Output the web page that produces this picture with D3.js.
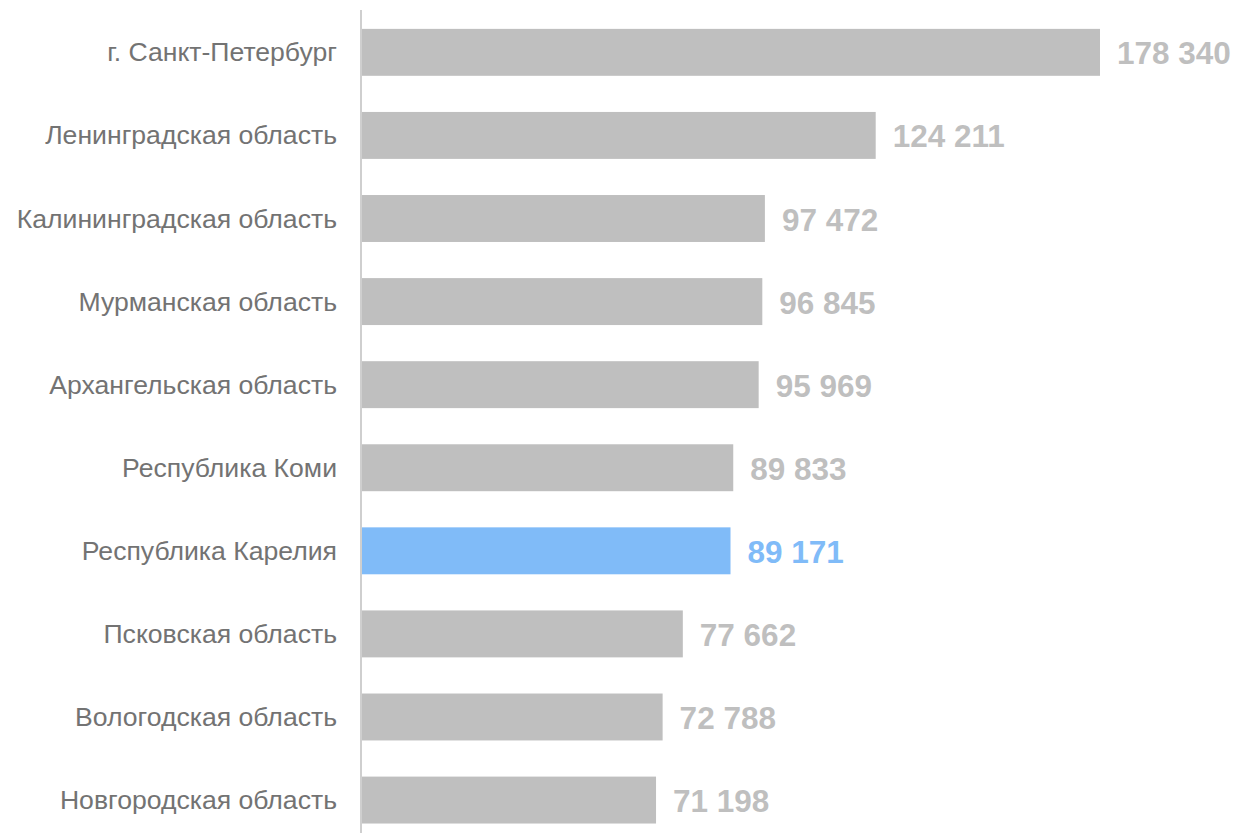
<!DOCTYPE html>
<html><head><meta charset="utf-8">
<script src="https://cdn.jsdelivr.net/npm/d3@7"></script>
<style>body{margin:0;background:#fff}svg{display:block}</style>
</head><body>
<svg id="c" width="1236" height="833"></svg>
<script>
const categories = ["г. Санкт-Петербург","Ленинградская область","Калининградская область","Мурманская область","Архангельская область","Республика Коми","Республика Карелия","Псковская область","Вологодская область","Новгородская область"];
const values = [178340,124211,97472,96845,95969,89833,89171,77662,72788,71198];
const highlight = "Республика Карелия";

const svg = d3.select("#c");
const x0 = 361;
const x = d3.scaleLinear().domain([0,178340]).range([x0, 1100]);
const y = d3.scaleBand().domain(categories).range([10.8, 841.6]).paddingInner(0.435).paddingOuter(0.2175);
const fmt = v => d3.format(",")(v).replace(/,/g," ");

svg.selectAll("rect.bar").data(categories).join("rect")
  .attr("x", x0+1).attr("y", d=>y(d))
  .attr("width", (d,i)=>x(values[i])-x0-1).attr("height", y.bandwidth())
  .attr("fill", d=> d===highlight ? "#80bbf8" : "#bfbfbf");

svg.append("line").attr("x1",x0).attr("x2",x0).attr("y1",10).attr("y2",833)
  .attr("stroke","#bfbfbf").attr("stroke-width",1.5);

svg.selectAll("text.cat").data(categories).join("text")
  .attr("x", 337).attr("y", d=>y(d)+y.bandwidth()/2)
  .attr("text-anchor","end").attr("dominant-baseline","central")
  .style("font-family","'Liberation Sans', Arial, sans-serif").attr("font-size",26.6)
  .attr("fill","#737373").text(d=>d);

svg.selectAll("text.val").data(categories).join("text")
  .attr("x", (d,i)=>x(values[i])+17).attr("y", d=>y(d)+y.bandwidth()/2+1)
  .attr("dominant-baseline","central")
  .style("font-family","'Liberation Sans', Arial, sans-serif").attr("font-size",31.5).attr("font-weight","bold")
  .attr("fill", d=> d===highlight ? "#80bbf8" : "#bfbfbf")
  .text((d,i)=>fmt(values[i]));
</script>
</body></html>
